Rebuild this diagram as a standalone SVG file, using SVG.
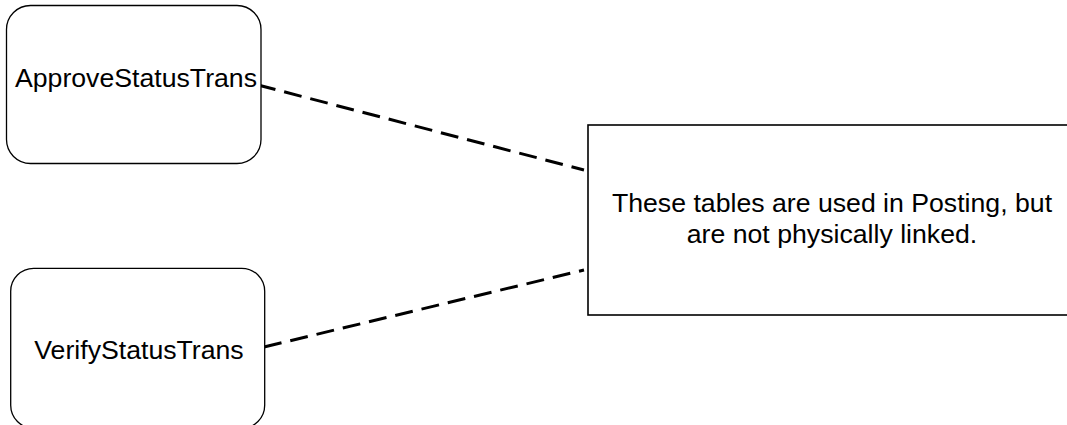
<svg xmlns="http://www.w3.org/2000/svg" width="1067" height="425" viewBox="0 0 1067 425">
<style>
.node{fill:#fff;stroke:#000;stroke-width:1.3}
.note{fill:#fff;stroke:#000;stroke-width:1.6}
.lbl{font-family:"Liberation Sans",Arial,sans-serif;font-size:26.67px;fill:#000;text-anchor:middle}
.conn{fill:none;stroke:#000;stroke-width:3;stroke-dasharray:18 9}
</style>
<rect width="1067" height="425" fill="#fff"/>
<g id="connectors">
<line class="conn" x1="258" y1="85" x2="584" y2="170"/>
<line class="conn" x1="264" y1="347" x2="584" y2="270"/>
</g>
<g id="approve">
<rect class="node" x="6.5" y="5.5" width="254.5" height="158" rx="24" ry="24"/>
<text class="lbl" x="136" y="87">ApproveStatusTrans</text>
</g>
<g id="verify">
<rect class="node" x="10.7" y="268.3" width="254" height="160" rx="23" ry="23"/>
<text class="lbl" x="139" y="359">VerifyStatusTrans</text>
</g>
<g id="note">
<rect class="note" x="588" y="125" width="490" height="190"/>
<text class="lbl" x="832" y="212">These tables are used in Posting, but</text>
<text class="lbl" x="832" y="243">are not physically linked.</text>
</g>
</svg>
